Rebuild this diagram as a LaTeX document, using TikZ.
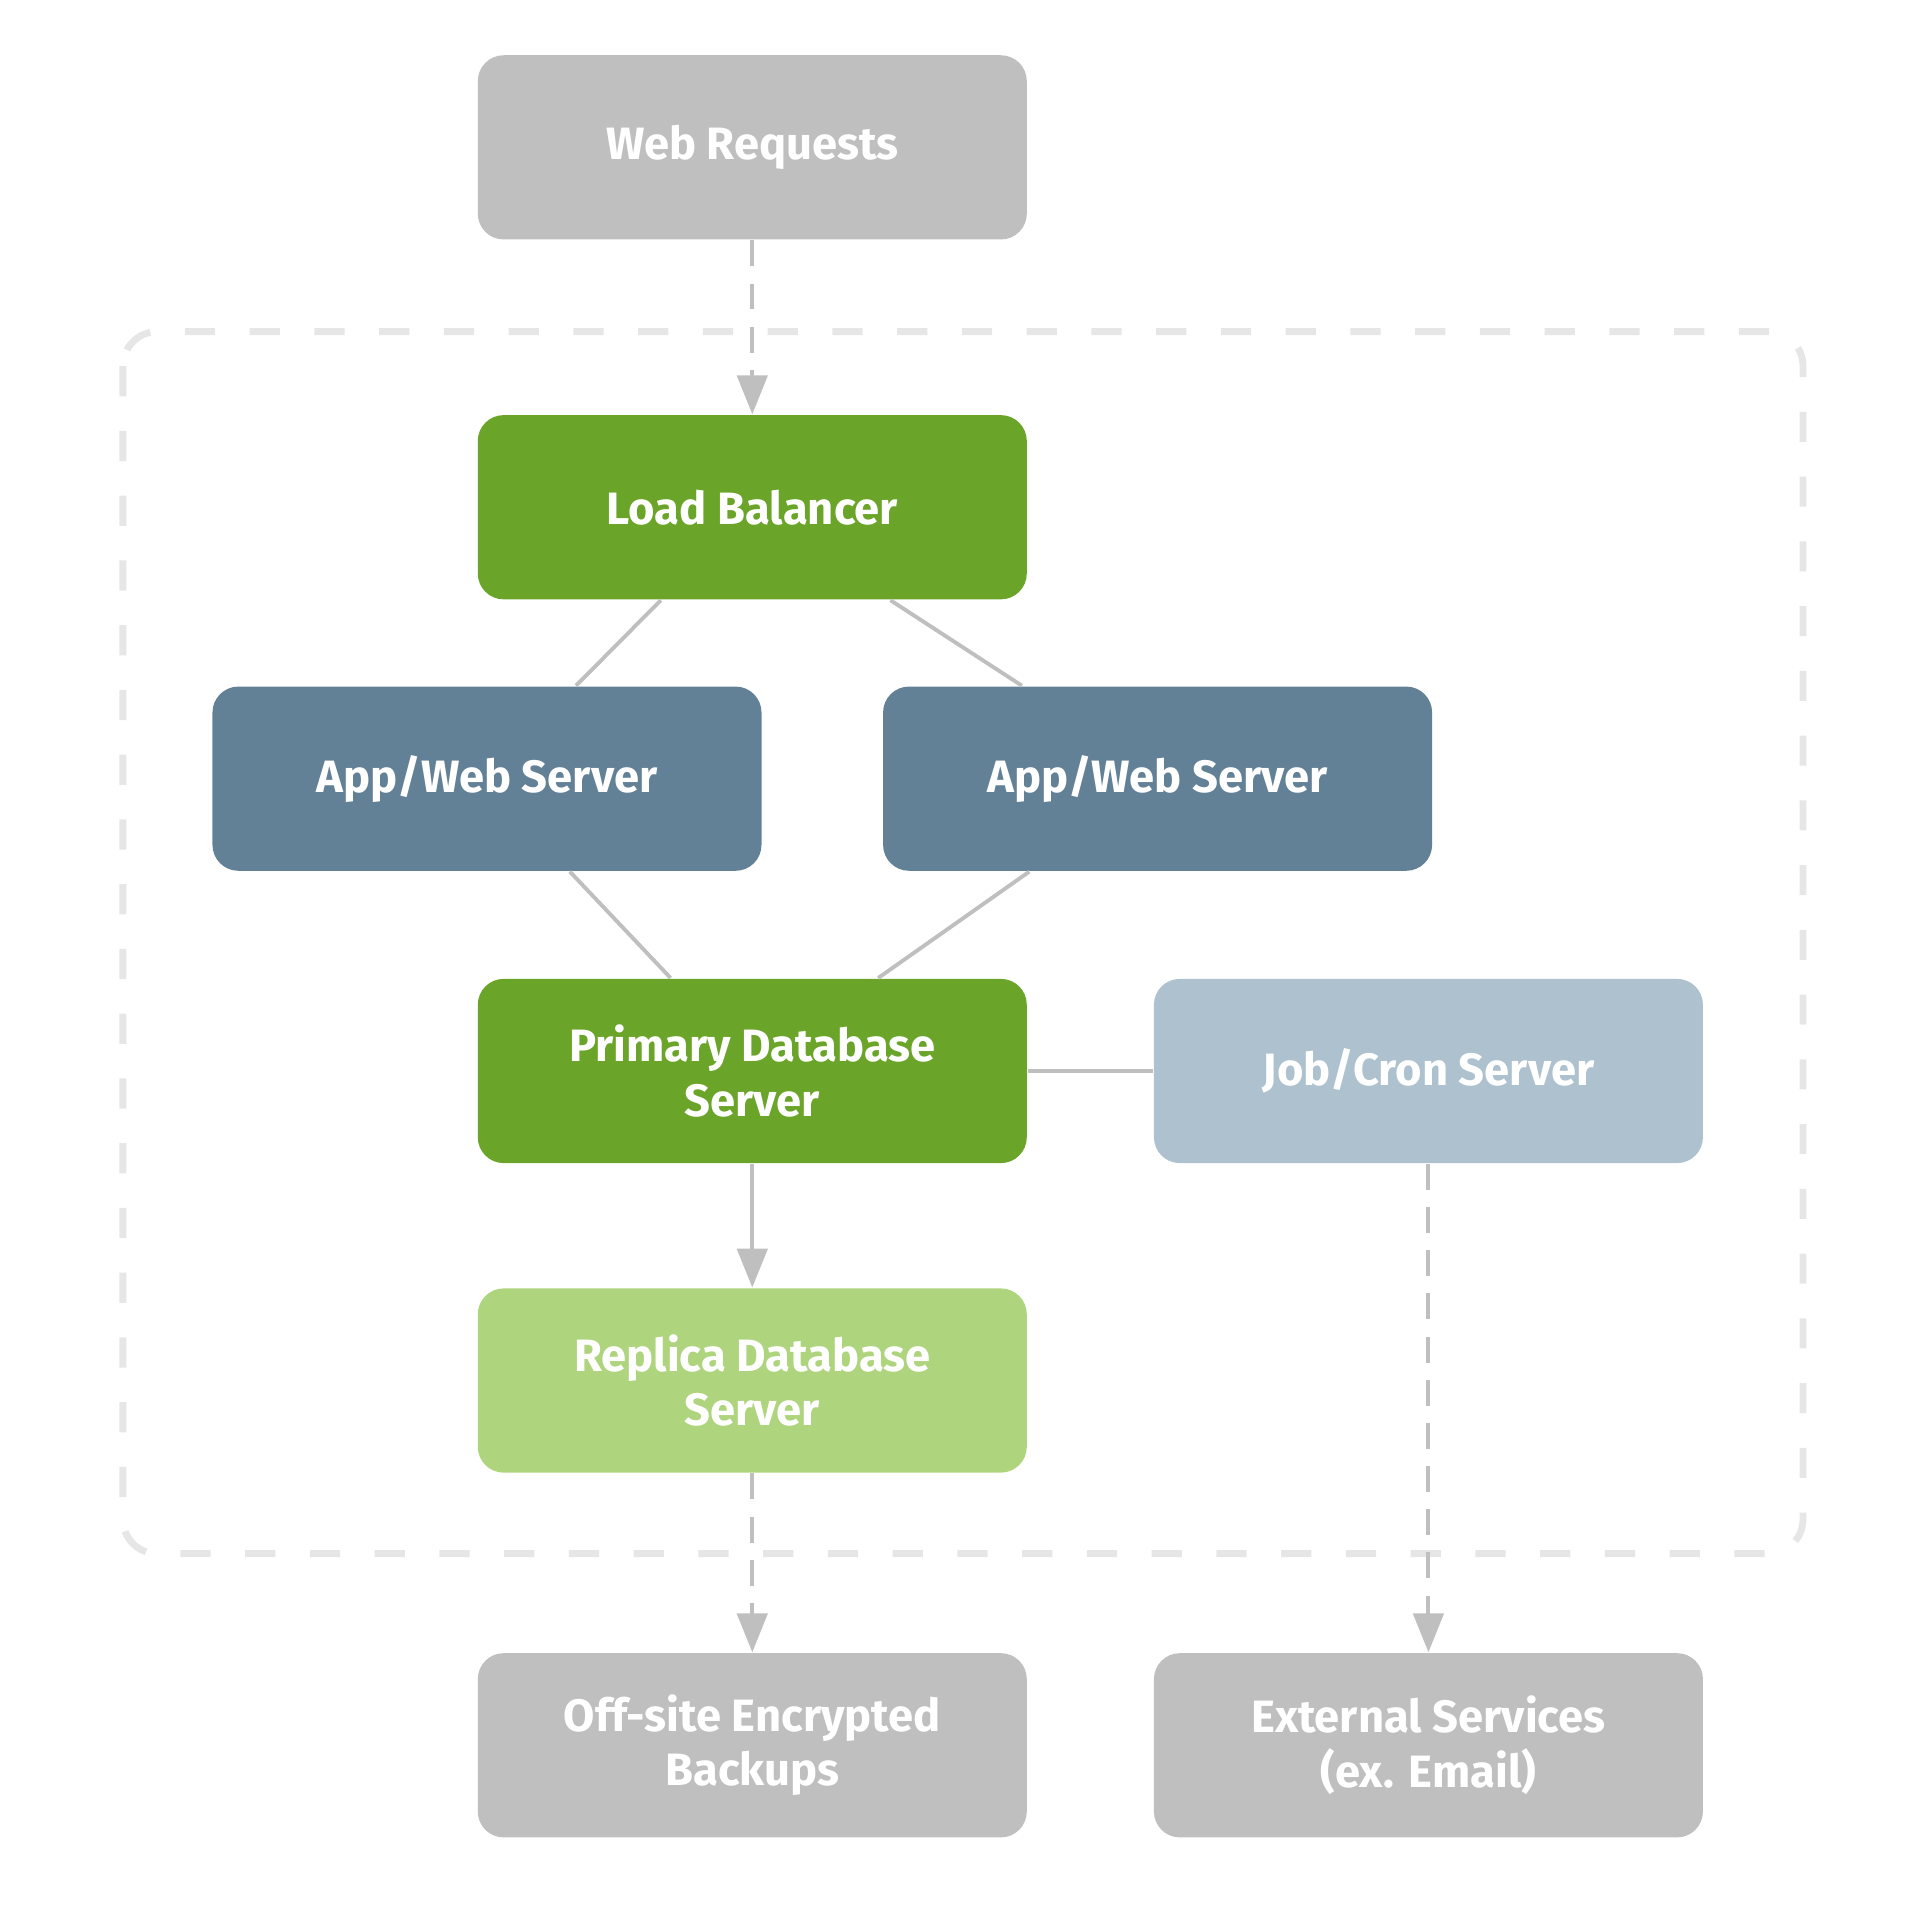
\documentclass[tikz,border=0pt]{standalone}
\usepackage{fontspec}
\setmainfont{Fira Sans}
\usetikzlibrary{arrows.meta}
\definecolor{boxgreen}{HTML}{6AA428}
\definecolor{boxlime}{HTML}{AFD47E}
\definecolor{boxslate}{HTML}{638196}
\definecolor{boxsky}{HTML}{ADC1CF}
\definecolor{boxgray}{HTML}{BFBFBF}
\definecolor{framegray}{HTML}{E6E6E6}
\tikzset{
  box/.style={rectangle,rounded corners=6pt,minimum width=4.47cm,minimum height=1.5cm,
    text=white,align=center,font=\fontsize{10.5}{12.6}\selectfont\bfseries},
  link/.style={draw=boxgray,line width=0.9pt},
  flow/.style={draw=boxgray,line width=0.9pt,-{Triangle[length=9pt,width=7pt]}},
  dflow/.style={flow,dash pattern=on 6pt off 4pt},
}
\begin{document}
\begin{tikzpicture}
\useasboundingbox (0,0) rectangle (15.6,-15.6);
\draw[framegray,line width=1.6pt,rounded corners=8pt,dash pattern=on 7pt off 8pt]
  (1.0,-2.7) rectangle (14.68,-12.65); %outer frame
\node[box,fill=boxgray] (web) at (6.125,-1.2) {Web Requests};
\node[box,fill=boxgreen] (lb) at (6.125,-4.13) {Load Balancer};
\node[box,fill=boxslate] (app1) at (3.965,-6.34) {App/Web Server};
\node[box,fill=boxslate] (app2) at (9.425,-6.34) {App/Web Server};
\node[box,fill=boxgreen] (pdb) at (6.125,-8.72) {Primary Database\\Server};
\node[box,fill=boxsky] (job) at (11.63,-8.72) {Job/Cron Server};
\node[box,fill=boxlime] (rdb) at (6.125,-11.24) {Replica Database\\Server};
\node[box,fill=boxgray] (off) at (6.125,-14.21) {Off-site Encrypted\\Backups};
\node[box,fill=boxgray] (ext) at (11.63,-14.21) {External Services\\(ex. Email)};
\draw[dflow] (web) -- (lb);
\draw[link] ([xshift=-0.745cm]lb.south) -- ([xshift=0.725cm]app1.north);
\draw[link] ([xshift=1.125cm]lb.south) -- ([xshift=-1.105cm]app2.north);
\draw[link] ([xshift=0.675cm]app1.south) -- ([xshift=-0.665cm]pdb.north);
\draw[link] ([xshift=-1.045cm]app2.south) -- ([xshift=1.025cm]pdb.north);
\draw[link] (pdb) -- (job);
\draw[flow] (pdb) -- (rdb);
\draw[dflow] (rdb) -- (off);
\draw[dflow] (job) -- (ext);
\end{tikzpicture}
\end{document}
